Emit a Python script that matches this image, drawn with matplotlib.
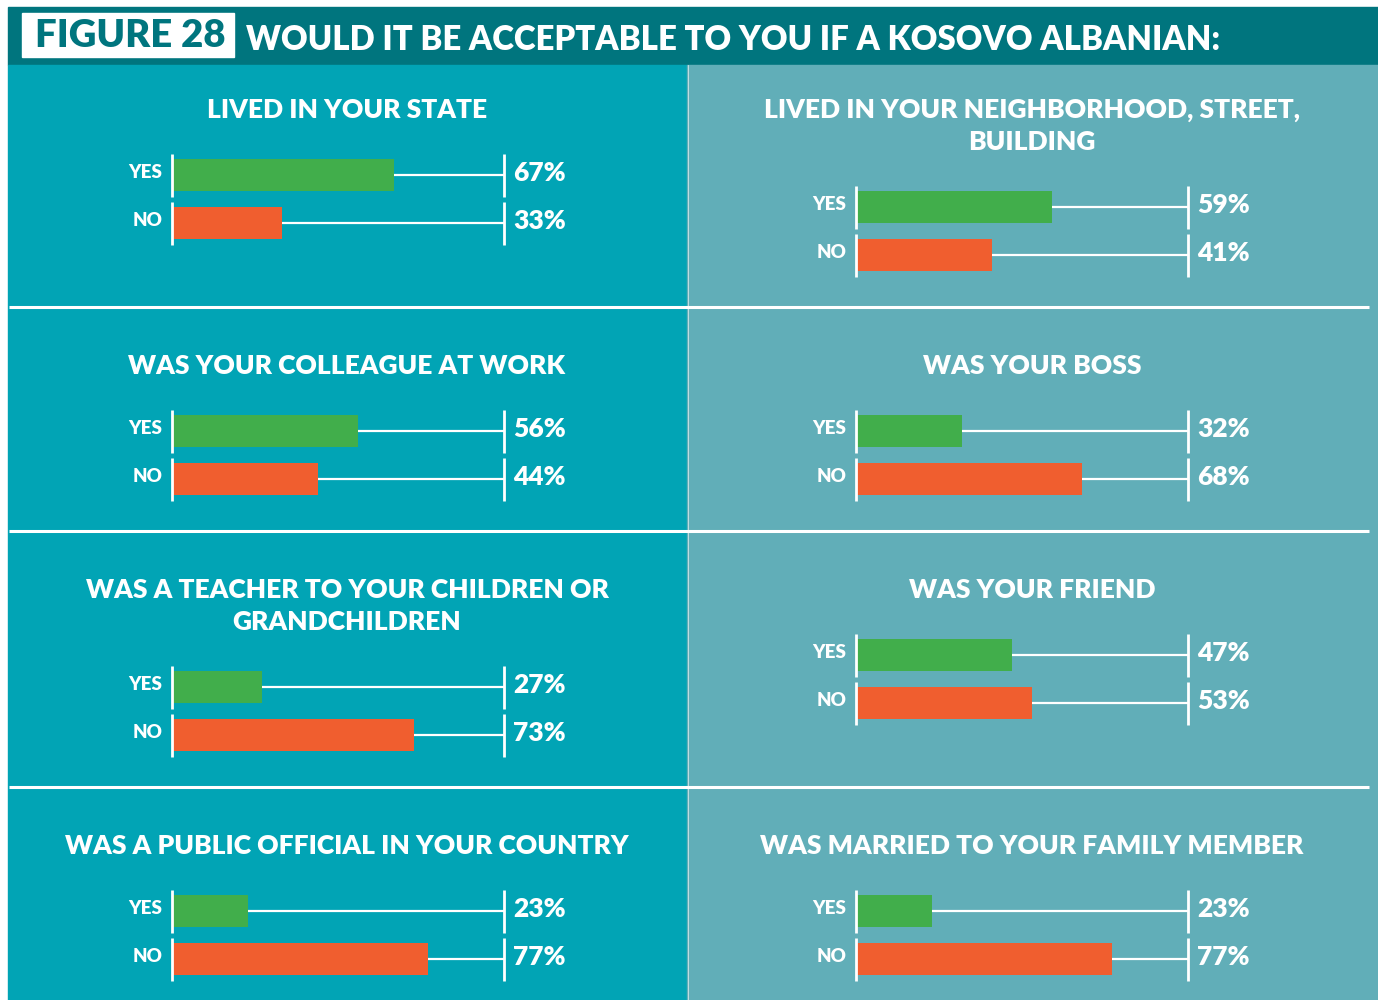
import matplotlib.pyplot as plt
from matplotlib.patches import Rectangle

plt.rcParams['font.family'] = ['Lato', 'DejaVu Sans']

# survey answers, in percent
questions = [
    "LIVED IN YOUR STATE",
    "LIVED IN YOUR NEIGHBORHOOD, STREET,\nBUILDING",
    "WAS YOUR COLLEAGUE AT WORK",
    "WAS YOUR BOSS",
    "WAS A TEACHER TO YOUR CHILDREN OR\nGRANDCHILDREN",
    "WAS YOUR FRIEND",
    "WAS A PUBLIC OFFICIAL IN YOUR COUNTRY",
    "WAS MARRIED TO YOUR FAMILY MEMBER",
]
yes_vals = [67, 59, 56, 32, 27, 47, 23, 23]
no_vals = [33, 41, 44, 68, 73, 53, 77, 77]
answers = ["YES", "NO"]

title = "WOULD IT BE ACCEPTABLE TO YOU IF A KOSOVO ALBANIAN:"
fig_label = "FIGURE 28"

HEAD = "#00757e"
LEFT = "#01a4b5"
RIGHT = "#61aeb8"
GREEN = "#41ae4b"
ORANGE = "#f05e2f"

W, H = 1378, 1000
fig = plt.figure(figsize=(W / 100, H / 100), dpi=100)
bg = fig.add_axes([0, 0, 1, 1])
bg.set_xlim(0, W)
bg.set_ylim(H, 0)
bg.axis("off")

# header band
bg.add_patch(Rectangle((8, 7), W - 8, 58, color=HEAD))
bg.add_patch(Rectangle((22, 13), 212, 44, color="white"))
bg.text(130, 47, fig_label, color=HEAD, fontsize=27.5, fontweight="heavy",
        ha="center", va="baseline")
bg.text(246, 50, title, color="white", fontsize=23.7, fontweight="heavy",
        ha="left", va="baseline")

# column backgrounds
bg.add_patch(Rectangle((8, 65), 679, H - 65, color=LEFT))
bg.add_patch(Rectangle((687, 65), W - 687, H - 65, color=RIGHT))
bg.plot([687.5, 687.5], [65, H], color="white", lw=0.6, alpha=0.7)
for y in [307, 531, 787]:
    bg.plot([9, 1369], [y, y], color="white", lw=2.2, solid_capstyle="butt")

# per panel: title baseline y, yes bar centre y
row_base = [118, 374, 598, 854]
left_bars = [175, 431, 687, 911]
right_bars = [207, 431, 655, 911]
axis_x = [172, 856]
col_cx = [347, 1032]

for k, q in enumerate(questions):
    col = k % 2
    row = k // 2
    for j, line in enumerate(q.split("\n")):
        bg.text(col_cx[col], row_base[row] + 32 * j, line, color="white",
                fontsize=19, fontweight="heavy", ha="center", va="baseline")
    yc = (left_bars if col == 0 else right_bars)[row]
    x0 = axis_x[col]
    top = yc - 24
    ax = fig.add_axes([x0 / W, 1 - (top + 96) / H, 332 / W, 96 / H])
    ax.set_xlim(0, 100)
    ax.set_ylim(1.5, -0.5)
    ax.axis("off")
    vals = [yes_vals[k], no_vals[k]]
    ax.barh([0, 1], vals, height=0.667, color=[GREEN, ORANGE])
    for i, v in enumerate(vals):
        ax.hlines(i, v, 100, color="white", lw=1.6)
        ax.vlines([0, 100], i - 0.43, i + 0.45, color="white", lw=2.0,
                  clip_on=False)
        ax.annotate(answers[i], (0, i), xytext=(-10, 3),
                    textcoords="offset pixels", color="white", fontsize=13.5,
                    fontweight="heavy", ha="right", va="center")
        ax.annotate(f"{v}%", (100, i), xytext=(9, 2),
                    textcoords="offset pixels", color="white", fontsize=19,
                    fontweight="heavy", ha="left", va="center")

fig.savefig("out.png", dpi=100)
